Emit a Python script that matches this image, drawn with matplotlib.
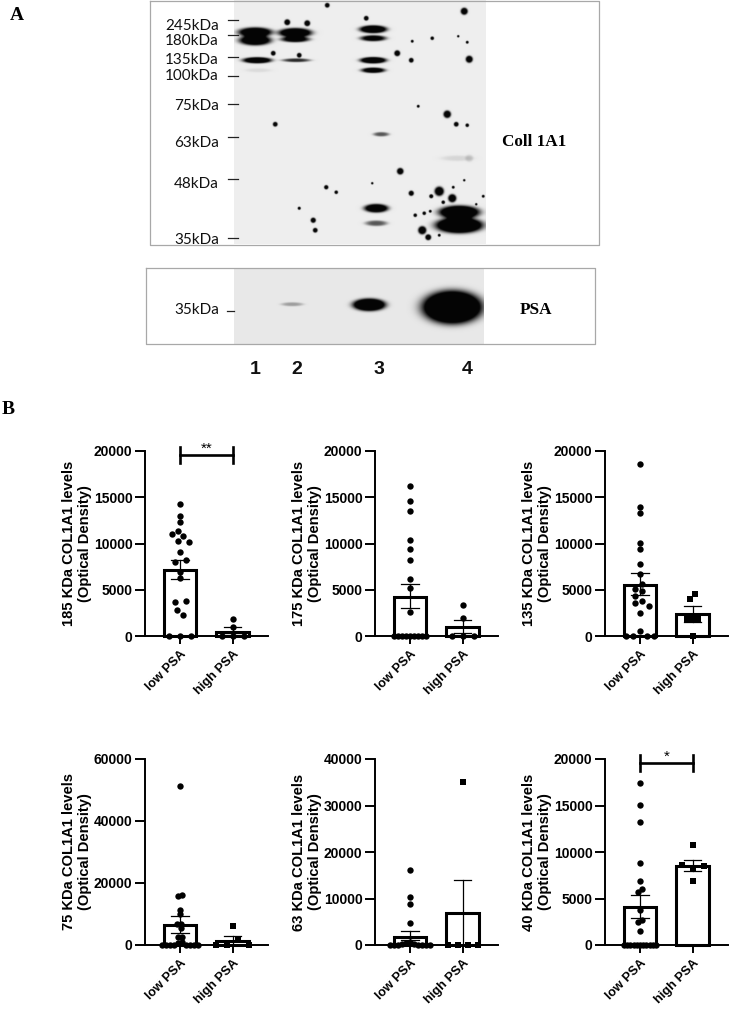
import numpy as np
import matplotlib
matplotlib.use("Agg")
import matplotlib.pyplot as plt

plt.rcParams['font.family'] = ['Liberation Sans', 'DejaVu Sans']

W, H = 729, 1009
GROUPS = ["low PSA", "high PSA"]

# panel titles and axis tops
ylabels = ["185 KDa COL1A1 levels\n(Optical Density)", "175 KDa COL1A1 levels\n(Optical Density)",
           "135 KDa COL1A1 levels\n(Optical Density)", "75 KDa COL1A1 levels\n(Optical Density)",
           "63 KDa COL1A1 levels\n(Optical Density)", "40 KDa COL1A1 levels\n(Optical Density)"]
ymax = [20000, 20000, 20000, 60000, 40000, 20000]
ystep = [5000, 5000, 5000, 20000, 10000, 5000]

# bar heights and error bar ends, low then high
bars = [[7150, 470], [4200, 970], [5530, 2330], [6580, 1190], [1800, 6830], [4110, 8470]]
err_hi = [[8230, 940], [5570, 1760], [6820, 3230], [9390, 2910], [2950, 14030], [5400, 9190]]
err_lo = [[6170, 100], [3050, 360], [4450, 1500], [3990, 0], [1000, 0], [2920, 7930]]

# points, the order decides how the swarm spreads
low_pts = [
    [14260, 13000, 12300, 10760, 11300, 11000, 10290, 10200, 9030, 8230, 7980, 6900, 6250, 3750, 3680, 2310, 2850, 0, 0, 0],
    [16240, 14580, 13460, 10380, 9440, 8260, 6180, 5200, 2550, 0, 0, 0, 0, 0, 0, 0, 0, 0],
    [18630, 13970, 13320, 10090, 9440, 7830, 6750, 5640, 5100, 4900, 4300, 3770, 3520, 3230, 2440, 500, 0, 0, 0, 0],
    [51370, 16000, 15800, 11440, 10140, 6900, 6700, 5500, 2600, 2600, 1000, 500, 0, 0, 0, 0, 0, 0, 0, 0],
    [16190, 10290, 8850, 4680, 700, 500, 300, 200, 0, 0, 0, 0, 0, 0, 0],
    [17440, 15100, 13260, 8790, 6920, 5980, 5660, 3710, 2740, 2520, 1510, 0, 0, 0, 0, 0, 0, 0, 0, 0, 0, 0],
]
high_pts = [
    [1800, 950, 0, 0, 0],
    [3370, 1970, 0, 0, 0],
    [4490, 3950, 1800, 1800, 1800, 0],
    [6260, 1500, 0, 0, 0],
    [35100, 0, 0, 0, 0],
    [10770, 8250, 8650, 8470, 6850],
]
high_marker = ['o', 'o', 's', 's', 's', 's']
low_step = [5.5, 4, 7, 4, 4, 3.2]
low_gap = [6, 3.9, 6, 3.9, 3.9, 3.1]
high_step = [11, 11, 5.5, 11, 10, 11]
high_gap = [6, 6, 5.4, 6, 6, 6]

brackets = {0: "**", 5: "*"}

# blot labels
marker_names = ["245kDa", "180kDa", "135kDa", "100kDa", "75kDa", "63kDa", "48kDa", "35kDa"]
marker_label_y = [26, 41, 60, 76, 106, 143, 184, 240]
marker_tick_y = [20, 35, 57, 76, 104, 137, 179, 238]
lanes = ["1", "2", "3", "4"]
lane_x = [255, 297, 379, 467]

# photo content of the blots: x, y, half width, half height, strength
coll_bands = [
    (255, 32, 17, 4.8, 1.5), (255, 40, 16, 5, 1.5), (257, 60, 14.5, 3, 1.5), (258, 70, 13, 2, 0.08),
    (295, 32.5, 16.5, 4.6, 1.6), (295, 39, 14.5, 3, 1.2), (296, 60, 14, 1.9, 0.85),
    (373, 29, 13.5, 3.8, 1.6), (373, 38, 13, 3, 1.2), (373, 60, 13, 3.1, 1.6), (373, 70, 12, 2.7, 1.3),
    (381, 134, 8, 2.2, 0.65), (376, 208, 12, 4.2, 1.5), (376, 223, 11, 2.8, 0.65),
    (459, 212, 20, 6.5, 1.8), (459, 225, 23, 7.6, 2), (457, 158, 16, 2.8, 0.1), (469, 158, 4, 3.5, 0.15),
]
coll_spots = [
    (464, 11, 3), (327, 5, 2), (366, 18, 2), (287, 22, 2.5), (307, 23, 2.5), (397, 53, 2.5), (412, 41, 1.2),
    (432, 38, 1.5), (458, 36, 1), (467, 42, 1.2), (469, 59, 3), (411, 60, 2), (299, 55, 2), (273, 53, 2),
    (275, 124, 2), (447, 114, 3.2), (456, 124, 2), (467, 125, 1.5), (418, 106, 1.2), (400, 171, 2.8),
    (326, 187, 1.8), (336, 192, 1.5), (372, 183, 1), (411, 193, 2.2), (439, 191, 4), (431, 196, 1.7),
    (452, 198, 3.5), (453, 187, 1.2), (483, 196, 1.2), (299, 208, 1.3), (313, 220, 2.2), (315, 230, 2),
    (415, 215, 1.5), (424, 213, 1.5), (430, 211, 1.2), (422, 230, 3.5), (428, 237, 2.5), (439, 235, 1.2),
    (464, 180, 1), (476, 204, 1), (443, 202, 1.5),
]
psa_bands = [(292, 304, 11, 2, 0.33), (369, 304.5, 16, 6, 1.9), (452, 307, 29, 16, 2.2)]


def blot(x0, x1, y0, y1, bands, bg):
    xx, yy = np.meshgrid(np.arange(x0, x1, 0.5), np.arange(y0, y1, 0.5))
    dark = np.zeros_like(xx)
    for cx, cy, a, b, s in bands:
        d = ((xx - cx) / a) ** 2 + ((yy - cy) / b) ** 2
        dark += s * np.exp(-d ** 2)
    return bg * (1 - np.clip(dark, 0, 1)) + 0.02


def swarm(values, scale, step, mind):
    # greedy swarm in pixels, each row of touching points is centred afterwards
    xs, ys = [], []
    for v in values:
        y = v * scale
        k = 0
        while True:
            offs = [0] if k == 0 else [-k * step, k * step]
            hit = None
            for x in offs:
                if all(np.hypot(x - a, y - b) >= mind for a, b in zip(xs, ys)):
                    hit = x
                    break
            if hit is not None:
                break
            k += 1
        xs.append(hit)
        ys.append(y)
    xs = np.array(xs, dtype=float)
    ys = np.array(ys)
    order = np.argsort(ys)
    row = [order[0]]
    for i in order[1:]:
        if ys[i] - ys[row[-1]] < mind:
            row.append(i)
        else:
            xs[row] -= xs[row].mean()
            row = [i]
    xs[row] -= xs[row].mean()
    return xs


fig = plt.figure(figsize=(W / 100, H / 100), dpi=100)

# panel A drawn on a pixel sized layer
bg = fig.add_axes([0, 0, 1, 1])
bg.axis('off')
spots = [(x, y, r * 1.15, r * 1.15, 1.4) for x, y, r in coll_spots]
bg.imshow(blot(234, 486, 0, 244, coll_bands + spots, 0.91), extent=(234, 486, 244, 0), cmap='gray',
          vmin=0, vmax=1, aspect='auto', interpolation='bilinear')
bg.imshow(blot(234, 484, 268, 344, psa_bands, 0.89), extent=(234, 484, 344, 268), cmap='gray',
          vmin=0, vmax=1, aspect='auto', interpolation='bilinear')
bg.set_xlim(0, W)
bg.set_ylim(H, 0)
bg.plot([150, 150, 599, 599, 150], [0.5, 244.5, 244.5, 0.5, 0.5], color='#a8a8a8', lw=0.9)
bg.plot([146, 146, 595, 595, 146], [268, 344, 344, 268, 268], color='#a8a8a8', lw=0.9)
for name, ly, ty in zip(marker_names, marker_label_y, marker_tick_y):
    bg.text(219, ly, name, family='Lato', fontsize=11, ha='right', va='center', color='#111111')
    bg.plot([228, 238], [ty, ty], color='#222222', lw=0.9)
bg.text(219, 310, "35kDa", family='Lato', fontsize=11, ha='right', va='center', color='#111111')
bg.plot([227, 234], [311, 311], color='#222222', lw=0.9)
for name, x in zip(lanes, lane_x):
    bg.text(x, 369, name, fontweight='bold', fontsize=14, ha='center', va='center', color='#111111')
bg.text(534, 142, "Coll 1A1", family='Liberation Serif', fontweight='bold', fontsize=12.3, ha='center', va='center')
bg.text(536, 310, "PSA", family='Liberation Serif', fontweight='bold', fontsize=12.3, ha='center', va='center')
bg.text(17, 15, "A", family='Liberation Serif', fontweight='bold', fontsize=14, ha='center', va='center')
bg.text(8, 410, "B", family='Liberation Serif', fontweight='bold', fontsize=14, ha='center', va='center')

# panel B
axis_x = [145, 375, 605]
rows = [(451, 636), (759, 945)]
gap = 52.5
for i in range(6):
    left = axis_x[i % 3]
    top, bottom = rows[i // 3]
    ax = fig.add_axes([left / W, 1 - bottom / H, 123 / W, (bottom - top) / H])
    ax.patch.set_alpha(0)
    ax.set_xlim(-35 / gap, 88 / gap)
    ax.set_ylim(0, ymax[i])
    for s in ['top', 'right']:
        ax.spines[s].set_visible(False)
    for s in ['left', 'bottom']:
        ax.spines[s].set_linewidth(1.4)

    ax.bar([0, 1], bars[i], width=0.62, facecolor='white', edgecolor='black', linewidth=2.2, zorder=2, clip_on=False)

    scale = (bottom - top) / ymax[i]
    xlow = swarm(low_pts[i], scale, low_step[i], low_gap[i])
    xhigh = swarm(high_pts[i], scale, high_step[i], high_gap[i])
    ax.scatter(xlow / gap, low_pts[i], s=21, color='black', marker='o', linewidths=0, zorder=3, clip_on=False)
    ax.scatter(1 + xhigh / gap, high_pts[i], s=21, color='black', marker=high_marker[i], linewidths=0,
               zorder=3, clip_on=False)

    for g in range(2):
        ax.plot([g, g], [err_lo[i][g], err_hi[i][g]], color='black', lw=0.9, zorder=4)
        for end in (err_lo[i][g], err_hi[i][g]):
            ax.plot([g - 0.165, g + 0.165], [end, end], color='black', lw=0.9, zorder=4, clip_on=False)

    ax.set_yticks(np.arange(0, ymax[i] + 1, ystep[i]))
    ax.set_xticks([0, 1])
    ax.set_xticklabels(GROUPS, rotation=45, ha='right', rotation_mode='anchor', fontsize=9.3, fontweight='bold')
    ax.tick_params(axis='x', length=6, width=1.4, pad=3)
    ax.tick_params(axis='y', length=7, width=1.4, pad=2, labelsize=10)
    for lab in ax.get_yticklabels():
        lab.set_fontweight('bold')
    ax.set_ylabel(ylabels[i], fontsize=10.6, labelpad=1, linespacing=1.2, fontweight='bold')

    if i in brackets:
        yb = 0.978 * ymax[i]
        cap = 0.043 * ymax[i]
        ax.plot([0, 1], [yb, yb], color='black', lw=1.9, clip_on=False, zorder=5)
        ax.plot([0, 0], [yb - cap, yb + cap], color='black', lw=1.9, clip_on=False, zorder=5)
        ax.plot([1, 1], [yb - cap, yb + cap], color='black', lw=1.9, clip_on=False, zorder=5)
        ax.text(0.5, yb - 100, brackets[i], ha='center', va='bottom', fontsize=11)

fig.savefig('out.png', dpi=100)
